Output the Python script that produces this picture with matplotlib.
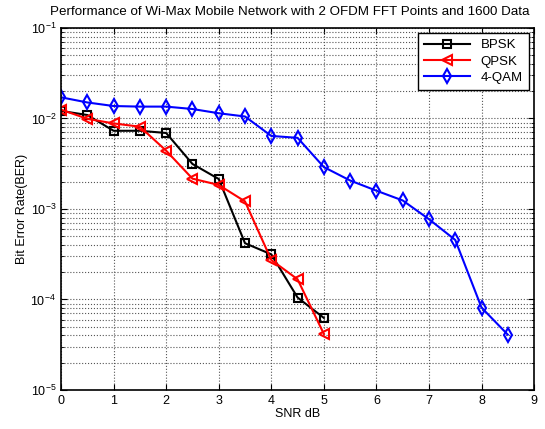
import matplotlib
matplotlib.use("Agg")
import matplotlib.pyplot as plt
from matplotlib.ticker import LogLocator, NullFormatter, FixedLocator

plt.rcParams['font.family'] = ['Liberation Sans', 'DejaVu Sans']

snr_bpsk = [0, 0.5, 1, 1.5, 2, 2.5, 3, 3.5, 4, 4.5, 5]
ber_bpsk = [0.0121, 0.0109, 0.0073, 0.0073, 0.0069, 0.00314, 0.00214, 0.000418, 0.000315, 0.000105, 0.0000625]

snr_qpsk = [0, 0.5, 1, 1.5, 2, 2.5, 3, 3.5, 4, 4.5, 5]
ber_qpsk = [0.0125, 0.0099, 0.0088, 0.0081, 0.0044, 0.00216, 0.00184, 0.00121, 0.000273, 0.000167, 0.0000416]

snr_qam = [0, 0.5, 1, 1.5, 2, 2.5, 3, 3.5, 4, 4.5, 5, 5.5, 6, 6.5, 7, 7.5, 8, 8.5]
ber_qam = [0.0171, 0.0150, 0.0137, 0.0135, 0.0135, 0.0127, 0.0114, 0.0105, 0.0064, 0.0061, 0.0029,
           0.00206, 0.00159, 0.00124, 0.00077, 0.000454, 0.0000812, 0.0000408]

x_ticks = [0, 1, 2, 3, 4, 5, 6, 7, 8, 9]

fig = plt.figure(figsize=(5.45, 4.29), dpi=100)
ax = fig.add_axes([0.112, 0.091, 0.868, 0.844])

ax.semilogy(snr_bpsk, ber_bpsk, '-s', color='black', lw=1.5, ms=5.5, mfc='none', mew=1.5, label='BPSK')
ax.semilogy(snr_qpsk, ber_qpsk, '-<', color='red', lw=1.5, ms=7, mfc='none', mew=1.5, label='QPSK')
ax.semilogy(snr_qam, ber_qam, '-d', color='blue', lw=1.5, ms=7.5, mfc='none', mew=1.5, label='4-QAM')

ax.set_xlim(0, 9)
ax.set_ylim(1e-5, 1e-1)
ax.xaxis.set_major_locator(FixedLocator(x_ticks))
ax.yaxis.set_major_locator(LogLocator(base=10, numticks=10))
ax.yaxis.set_minor_locator(LogLocator(base=10, subs=range(2, 10), numticks=20))
ax.yaxis.set_minor_formatter(NullFormatter())

ax.grid(True, which='major', ls=':', color='#555555', lw=0.8)
ax.grid(True, which='minor', ls=':', color='#555555', lw=0.8)
ax.tick_params(which='both', direction='in', top=True, right=True, labelsize=9)
ax.tick_params(which='major', length=4)
ax.tick_params(which='minor', length=2)
for s in ax.spines.values():
    s.set_linewidth(1.2)

ax.set_xlabel('SNR dB', fontsize=9, labelpad=1)
ax.set_ylabel('Bit Error Rate(BER)', fontsize=9, labelpad=2)
fig.text(0.532, 0.972, 'Performance of Wi-Max Mobile Network with 2 OFDM FFT Points and 1600 Data',
         fontsize=9.6, ha='center', va='center')

leg = ax.legend(loc='upper right', fontsize=9.5, fancybox=False, framealpha=1, edgecolor='black',
                borderaxespad=0.4, handlelength=3.5, borderpad=0.45, labelspacing=0.3)
leg.get_frame().set_linewidth(1.0)

fig.savefig('out.png', dpi=100)
